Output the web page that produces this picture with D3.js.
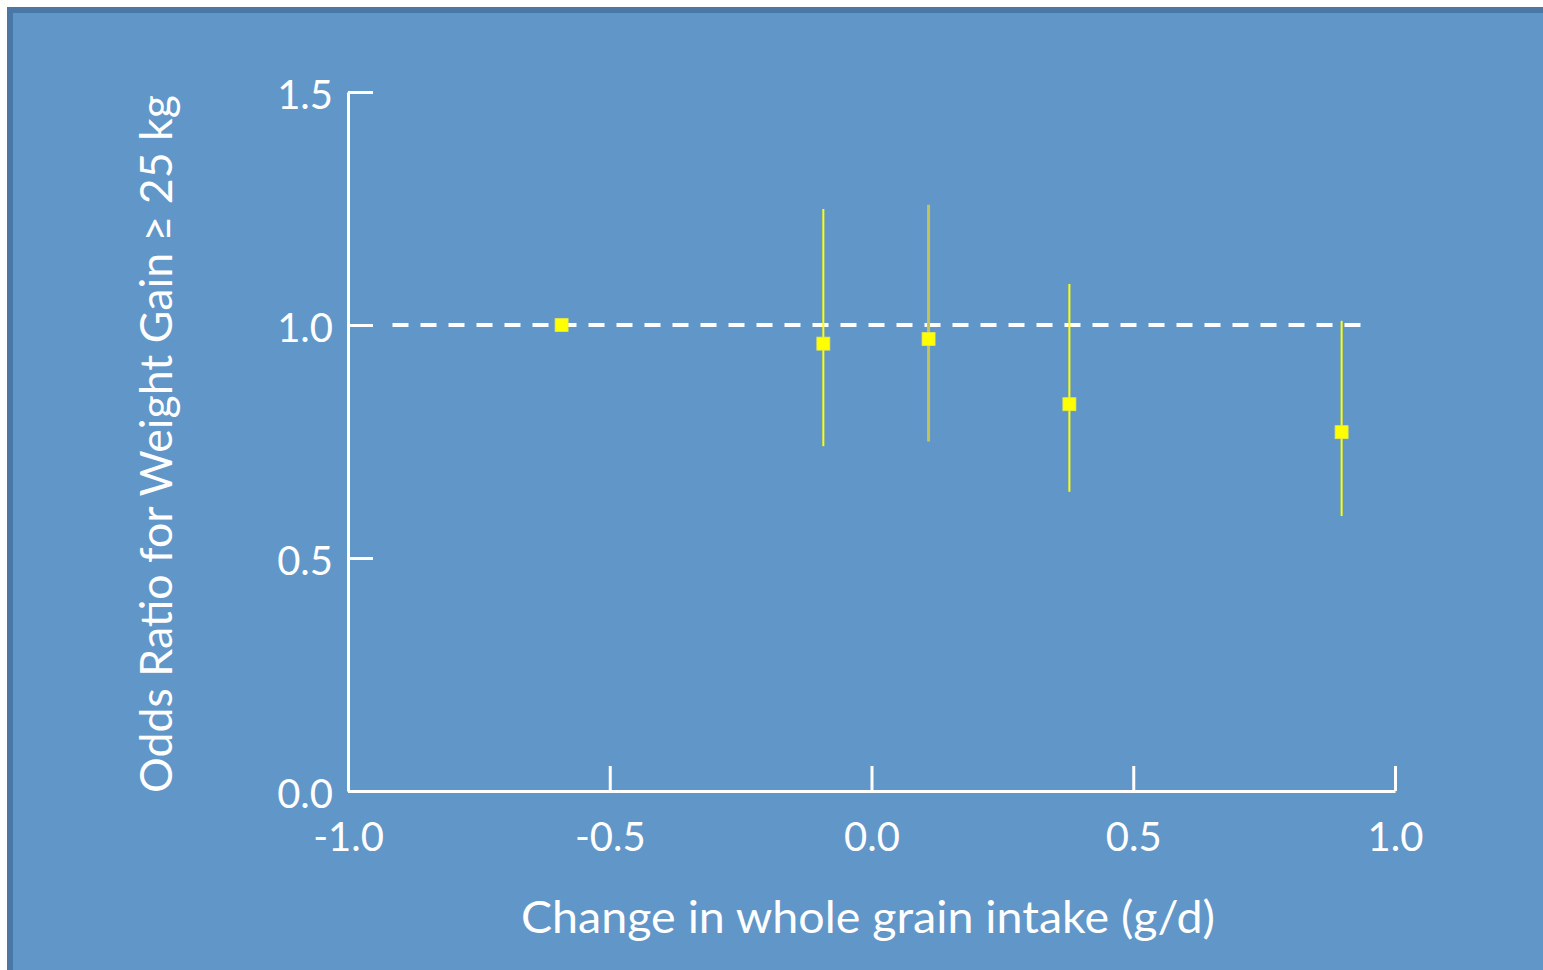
<!DOCTYPE html>
<html>
<head>
<meta charset="utf-8">
<script src="https://cdn.jsdelivr.net/npm/d3@7/dist/d3.min.js"></script>
<style>
  html, body { margin: 0; padding: 0; background: #ffffff; overflow: hidden; }
  svg { display: block; }
  text { font-family: Lato, "Open Sans", sans-serif; fill: #ffffff; }
</style>
</head>
<body>
<svg id="chart" width="1543" height="970"></svg>
<script>
// Odds ratio estimates by change in whole grain intake, with 95% CIs
const change   = [-0.592, -0.092, 0.109, 0.378, 0.898];
const oddsRatio = [1.00, 0.96, 0.97, 0.83, 0.77];
const ciLow    = [1.00, 0.74, 0.75, 0.642, 0.59];
const ciHigh   = [1.00, 1.249, 1.258, 1.088, 1.009];
const xTicks   = [-1.0, -0.5, 0.0, 0.5, 1.0];
const yTicks   = [0.0, 0.5, 1.0, 1.5];
const refLineX = [-0.915, 0.935];
const refLineY = 1.0;

const svg = d3.select("#chart");

// Panel background with darker frame on the top and left edges
svg.append("rect")
  .attr("x", 10).attr("y", 10)
  .attr("width", 1600).attr("height", 1000)
  .attr("fill", "#6196c9")
  .attr("stroke", "#4b77a6")
  .attr("stroke-width", 6);

const x = d3.scaleLinear().domain([-1, 1]).range([348, 1395]);
const y = d3.scaleLinear().domain([0, 1.5]).range([791, 92]);

// one decimal, plain hyphen for negatives
const fmt = v => v.toFixed(1);

// Y axis
const gy = svg.append("g")
  .attr("transform", `translate(${x(-1)},0)`)
  .call(d3.axisLeft(y).tickValues(yTicks).tickFormat(fmt)
    .tickSizeInner(-25).tickSizeOuter(0).tickPadding(15));
gy.selectAll("text")
  .attr("font-size", 40).attr("dy", "0.4em")
  .style("font-family", "Lato, 'Open Sans', sans-serif")
  .attr("fill", "#ffffff");

// X axis
const gx = svg.append("g")
  .attr("transform", `translate(0,${y(0)})`)
  .call(d3.axisBottom(x).tickValues(xTicks).tickFormat(fmt)
    .tickSizeInner(-25).tickSizeOuter(0).tickPadding(32));
gx.selectAll("text")
  .attr("font-size", 40).attr("dy", "0.71em")
  .style("font-family", "Lato, 'Open Sans', sans-serif")
  .attr("fill", "#ffffff");

svg.selectAll(".domain, .tick line")
  .attr("stroke", "#ffffff").attr("stroke-width", 3);

// Reference line at OR = 1
svg.append("line")
  .attr("x1", x(refLineX[0])).attr("x2", x(refLineX[1]))
  .attr("y1", y(refLineY)).attr("y2", y(refLineY))
  .attr("stroke", "#ffffff").attr("stroke-width", 4)
  .attr("stroke-dasharray", "16,12");

// Confidence intervals
const idx = d3.range(change.length);
svg.selectAll("line.ci").data(idx).join("line")
  .attr("class", "ci")
  .attr("x1", i => x(change[i])).attr("x2", i => x(change[i]))
  .attr("y1", i => y(ciHigh[i])).attr("y2", i => y(ciLow[i]))
  .attr("stroke", i => i === 2 ? "#c2c45a" : "#ffff00")
  .attr("stroke-width", i => i === 2 ? 3 : 2)
  .attr("opacity", i => ciHigh[i] === ciLow[i] ? 0 : 1);

// Point estimates
const s = 13;
svg.selectAll("rect.pt").data(idx).join("rect")
  .attr("class", "pt")
  .attr("x", i => x(change[i]) - s / 2)
  .attr("y", i => y(oddsRatio[i]) - s / 2)
  .attr("width", s).attr("height", s)
  .attr("fill", "#ffff00")
  .attr("stroke", "#e6e64a").attr("stroke-width", 0.8);

// Axis titles
svg.append("text")
  .attr("x", 868).attr("y", 933)
  .attr("text-anchor", "middle")
  .attr("font-size", 44)
  .attr("textLength", 694).attr("lengthAdjust", "spacingAndGlyphs")
  .text("Change in whole grain intake (g/d)");

svg.append("text")
  .attr("transform", "translate(172,444) rotate(-90)")
  .attr("text-anchor", "middle")
  .attr("font-size", 44)
  .attr("textLength", 698).attr("lengthAdjust", "spacingAndGlyphs")
  .text("Odds Ratio for Weight Gain ≥ 25 kg");
</script>
</body>
</html>
